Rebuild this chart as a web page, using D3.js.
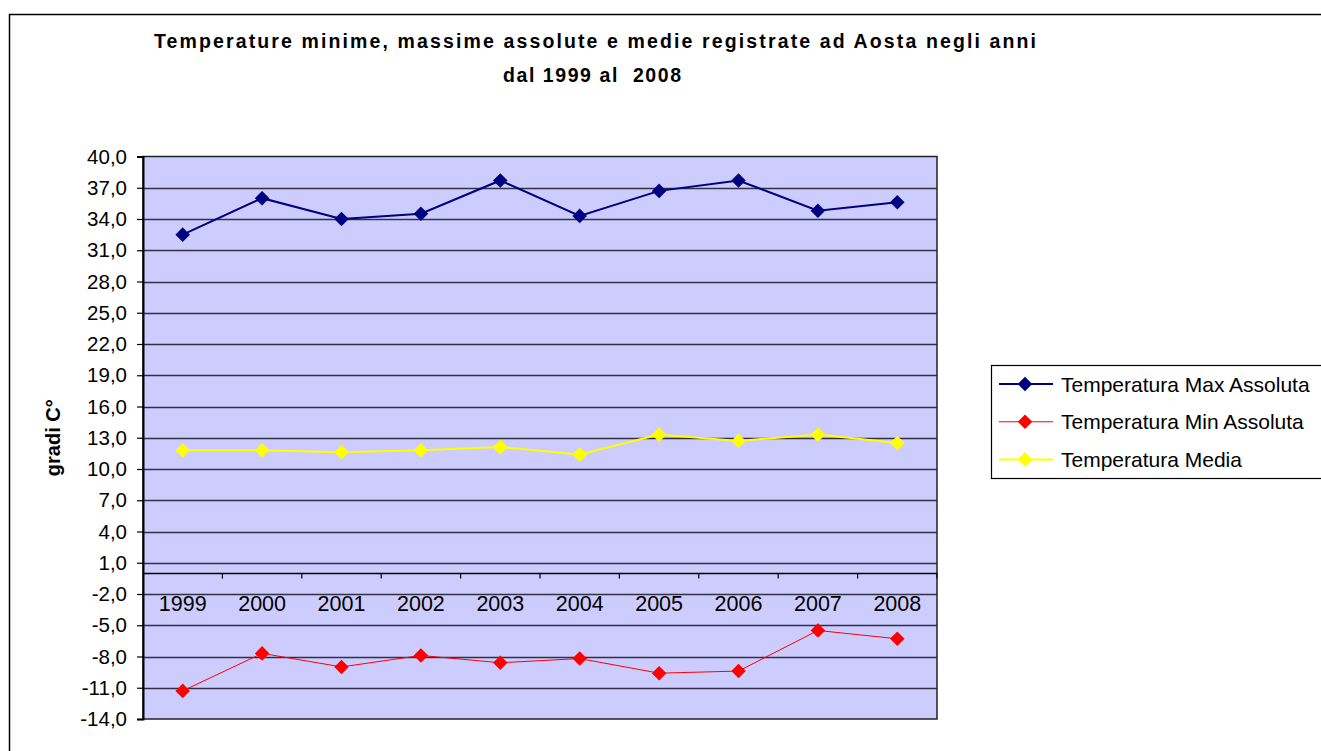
<!DOCTYPE html>
<html>
  <head>
    <meta charset="utf-8">
    <style>
      body { margin: 0; background: #fff; }
      svg { display: block; font-family: "Liberation Sans", Arial, sans-serif; }
    </style>
    <script src="https://d3js.org/d3.v7.min.js"></script>
  </head>
  <body>
    <svg></svg>
    <script>
    // data
    var years = ["1999", "2000", "2001", "2002", "2003", "2004", "2005", "2006", "2007", "2008"];
    var tMax = [32.5, 36.0, 34.0, 34.5, 37.7, 34.3, 36.7, 37.7, 34.8, 35.6];
    var tMin = [-11.3, -7.7, -9.0, -7.9, -8.6, -8.2, -9.6, -9.4, -5.5, -6.3];
    var tMedia = [11.8, 11.8, 11.6, 11.8, 12.1, 11.4, 13.3, 12.7, 13.3, 12.5];
    var yTicks = d3.range(-14, 41, 3);
    var seriesNames = ["Temperatura Max Assoluta", "Temperatura Min Assoluta", "Temperatura Media"];

    var series = [
      {name: seriesNames[0], values: tMax, color: "#000080", width: 2},
      {name: seriesNames[1], values: tMin, color: "#ff0000", width: 1},
      {name: seriesNames[2], values: tMedia, color: "#ffff00", width: 2}
    ];

    var W = 1321, H = 751;
    var svg = d3.select("svg").attr("width", W).attr("height", H);

    // outer chart frame (runs off the right / bottom edges)
    svg.append("rect")
        .attr("x", 9.5).attr("y", 14.5)
        .attr("width", 1400).attr("height", 800)
        .attr("fill", "#fff")
        .attr("stroke", "#000")
        .attr("stroke-width", 1.5);

    var plot = {left: 143, right: 937, top: 156.5, bottom: 719};

    var x = d3.scaleBand().domain(years).range([plot.left, plot.right]);
    var y = d3.scaleLinear().domain([-14, 40]).range([plot.bottom, plot.top]);

    // plot area
    svg.append("rect")
        .attr("x", plot.left).attr("y", plot.top)
        .attr("width", plot.right - plot.left)
        .attr("height", plot.bottom - plot.top)
        .attr("fill", "#ccccff");

    // gridlines
    svg.append("g")
      .selectAll("line")
      .data(yTicks.filter(function(d) { return d > -14 && d < 40; }))
      .enter().append("line")
        .attr("x1", plot.left).attr("x2", plot.right)
        .attr("y1", function(d) { return Math.round(y(d)) + 0.5; })
        .attr("y2", function(d) { return Math.round(y(d)) + 0.5; })
        .attr("stroke", "#303040")
        .attr("stroke-width", 1.3);

    // plot border
    svg.append("rect")
        .attr("x", plot.left).attr("y", plot.top)
        .attr("width", plot.right - plot.left)
        .attr("height", plot.bottom - plot.top)
        .attr("fill", "none")
        .attr("stroke", "#222")
        .attr("stroke-width", 1.5);

    // y axis
    var yAxis = svg.append("g")
        .attr("transform", "translate(" + plot.left + ",0)")
        .call(d3.axisLeft(y)
          .tickValues(yTicks)
          .tickSize(6)
          .tickPadding(10)
          .tickFormat(function(d) { return d.toFixed(1).replace(".", ","); }));
    yAxis.select(".domain").attr("stroke", "#000").attr("stroke-width", 2);
    yAxis.selectAll(".tick line").attr("stroke", "#000").attr("stroke-width", 1.2);
    yAxis.selectAll(".tick text")
        .attr("font-family", "Liberation Sans, Arial, sans-serif")
        .attr("font-size", "20.5px")
        .attr("fill", "#000");

    // x axis at zero, ticks between categories
    var y0 = Math.round(y(0)) + 0.5;
    var xAxis = svg.append("g");
    xAxis.append("line")
        .attr("x1", plot.left).attr("x2", plot.right)
        .attr("y1", y0).attr("y2", y0)
        .attr("stroke", "#000")
        .attr("stroke-width", 1.5);
    xAxis.selectAll(".xtick")
      .data(years)
      .enter().append("line")
        .attr("class", "xtick")
        .attr("x1", function(d) { return x(d) + x.bandwidth(); })
        .attr("x2", function(d) { return x(d) + x.bandwidth(); })
        .attr("y1", y0).attr("y2", y0 + 5)
        .attr("stroke", "#000")
        .attr("stroke-width", 1.2);
    xAxis.selectAll(".xlabel")
      .data(years)
      .enter().append("text")
        .attr("class", "xlabel")
        .attr("x", function(d) { return x(d) + x.bandwidth() / 2; })
        .attr("y", 611)
        .attr("text-anchor", "middle")
        .attr("font-size", "21.5px")
        .attr("fill", "#000")
        .text(function(d) { return d; });

    // axis title
    svg.append("text")
        .attr("transform", "translate(60," + ((plot.top + plot.bottom) / 2) + ") rotate(-90)")
        .attr("text-anchor", "middle")
        .attr("font-size", "20px")
        .attr("font-weight", "bold")
        .text("gradi C°");

    // chart title
    svg.append("text")
        .attr("x", 154).attr("y", 48)
        .attr("textLength", 882)
        .attr("lengthAdjust", "spacing")
        .attr("font-size", "19.5px")
        .attr("font-weight", "bold")
        .text("Temperature minime, massime assolute e medie registrate ad Aosta negli anni");
    svg.append("text")
        .attr("x", 503).attr("y", 82)
        .attr("textLength", 178)
        .attr("lengthAdjust", "spacing")
        .attr("font-size", "19.5px")
        .attr("font-weight", "bold")
        .style("white-space", "pre")
        .text("dal 1999 al  2008");

    // lines and markers
    var line = d3.line()
        .x(function(d, i) { return x(years[i]) + x.bandwidth() / 2; })
        .y(function(d) { return y(d); });
    var diamond = d3.symbol().type(d3.symbolDiamond2).size(135);

    series.forEach(function(s) {
      svg.append("path")
          .datum(s.values)
          .attr("fill", "none")
          .attr("stroke", s.color)
          .attr("stroke-width", s.width)
          .attr("d", line);
      svg.append("g")
        .selectAll("path")
        .data(s.values)
        .enter().append("path")
          .attr("transform", function(d, i) {
            return "translate(" + (x(years[i]) + x.bandwidth() / 2) + "," + y(d) + ")";
          })
          .attr("d", diamond)
          .attr("fill", s.color);
    });

    // legend
    var lg = svg.append("g");
    lg.append("rect")
        .attr("x", 991.5).attr("y", 365.5)
        .attr("width", 400).attr("height", 113)
        .attr("fill", "#fff")
        .attr("stroke", "#000")
        .attr("stroke-width", 1.2);
    var legendY = d3.scalePoint().domain(seriesNames).range([384, 459.5]);
    var items = lg.selectAll(".item")
      .data(series)
      .enter().append("g")
        .attr("class", "item")
        .attr("transform", function(d) { return "translate(0," + legendY(d.name) + ")"; });
    items.append("line")
        .attr("x1", 999).attr("x2", 1053)
        .attr("stroke", function(d) { return d.color; })
        .attr("stroke-width", function(d) { return d.width; });
    items.append("path")
        .attr("transform", "translate(1025,0)")
        .attr("d", diamond)
        .attr("fill", function(d) { return d.color; });
    items.append("text")
        .attr("x", 1061).attr("y", 7.5)
        .attr("font-size", "21px")
        .attr("fill", "#000")
        .text(function(d) { return d.name; });
    </script>
  </body>
</html>
